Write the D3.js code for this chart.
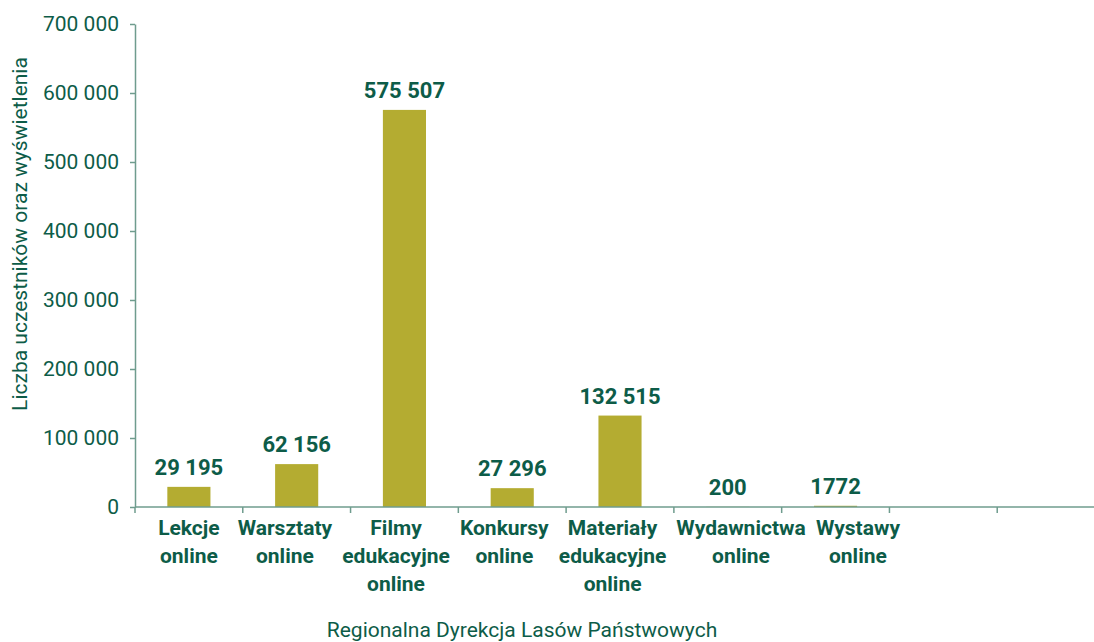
<!DOCTYPE html>
<html>
<head>
<meta charset="utf-8">
<script src="https://cdn.jsdelivr.net/npm/d3@7"></script>
<style>
  body { margin: 0; background: #fff; }
  text { font-family: Roboto, "Noto Sans", sans-serif; }
</style>
</head>
<body>
<div id="chart"></div>
<script>
// values
const categories = ["Lekcje online", "Warsztaty online", "Filmy edukacyjne online", "Konkursy online",
    "Materiały edukacyjne online", "Wydawnictwa online", "Wystawy online"]
const values = [29195, 62156, 575507, 27296, 132515, 200, 1772]
const valueLabels = ["29 195", "62 156", "575 507", "27 296", "132 515", "200", "1772"]
const emptySlots = ["_a", "_b"]
const yTicks = [0, 100000, 200000, 300000, 400000, 500000, 600000, 700000]

const textColour = "#0d5c48"
const axisColour = "#6f9c8e"
const barColour = "#b4ac31"

const fullWidth = 1094, fullHeight = 642
const margin = {top: 24, right: -11, bottom: 135, left: 135},
    width = fullWidth - margin.left - margin.right,
    height = fullHeight - margin.top - margin.bottom

const svg = d3.select("#chart").append("svg")
    .attr("width", fullWidth)
    .attr("height", fullHeight)

const g = svg.append("g")
    .attr("transform", `translate(${margin.left},${margin.top})`)

const scaleX = d3.scaleBand()
    .domain(categories.concat(emptySlots))
    .range([0, width])

const scaleY = d3.scaleLinear()
    .domain([0, 700000])
    .range([height, 0])

// y axis
const yAxis = g.append("g")
    .call(d3.axisLeft(scaleY)
        .tickValues(yTicks)
        .tickSize(5)
        .tickSizeOuter(0)
        .tickPadding(11)
        .tickFormat(d => d3.format(",")(d).replace(/,/g, " ")))
yAxis.select(".domain").attr("stroke", axisColour).attr("stroke-width", 1.5)
yAxis.selectAll(".tick line").attr("stroke", axisColour).attr("stroke-width", 1.5)
yAxis.selectAll(".tick text")
    .attr("fill", textColour)
    .style("font-size", "21px")

// bars
const bw = scaleX.bandwidth()
g.selectAll("rect.bar")
    .data(values)
    .join("rect")
    .attr("class", "bar")
    .attr("x", (d, i) => scaleX(categories[i]) + bw * 0.3)
    .attr("width", bw * 0.4)
    .attr("y", d => scaleY(d))
    .attr("height", d => height - scaleY(d))
    .attr("fill", barColour)

// value labels
g.selectAll("text.value")
    .data(values)
    .join("text")
    .attr("class", "value")
    .attr("x", (d, i) => scaleX(categories[i]) + bw / 2)
    .attr("y", d => scaleY(d) - 12)
    .attr("text-anchor", "middle")
    .attr("fill", textColour)
    .style("font-size", "22px")
    .style("font-weight", "bold")
    .text((d, i) => valueLabels[i])

// x axis line + ticks at band edges
const xAxis = g.append("g").attr("transform", `translate(0,${height})`)
xAxis.append("line")
    .attr("x1", 0).attr("x2", width)
    .attr("stroke", axisColour).attr("stroke-width", 1.5)
xAxis.selectAll("line.tick")
    .data(scaleX.domain())
    .join("line")
    .attr("class", "tick")
    .attr("x1", d => scaleX(d)).attr("x2", d => scaleX(d))
    .attr("y1", 0).attr("y2", 6)
    .attr("stroke", axisColour).attr("stroke-width", 1.5)

// category labels, one word per line
const catLabels = xAxis.selectAll("g.cat")
    .data(categories)
    .join("g")
    .attr("class", "cat")
    .attr("transform", d => `translate(${scaleX(d) + bw / 2},0)`)
catLabels.append("text")
    .attr("text-anchor", "middle")
    .attr("fill", textColour)
    .style("font-size", "21px")
    .style("font-weight", "bold")
    .each(function(d) {
        const t = d3.select(this)
        d.split(" ").forEach((w, i) => {
            t.append("tspan")
                .attr("x", 0)
                .attr("y", 28 + i * 28)
                .text(w)
        })
    })

// push neighbouring labels apart when they collide
const centres = categories.map(d => scaleX(d) + bw / 2)
const widths = []
catLabels.each(function() { widths.push(this.getBBox().width) })
const gap = 10
for (let k = 0; k < 20; k++) {
    for (let i = 0; i < centres.length - 1; i++) {
        const overlap = (centres[i] + widths[i] / 2 + gap) - (centres[i + 1] - widths[i + 1] / 2)
        if (overlap > 0) {
            centres[i] -= overlap / 2
            centres[i + 1] += overlap / 2
        }
    }
}
catLabels.attr("transform", (d, i) => `translate(${centres[i]},0)`)

// axis titles
svg.append("text")
    .attr("x", 522)
    .attr("y", 637)
    .attr("text-anchor", "middle")
    .attr("fill", textColour)
    .style("font-size", "21px")
    .text("Regionalna Dyrekcja Lasów Państwowych")

svg.append("text")
    .attr("transform", "translate(27, 234) rotate(-90)")
    .attr("text-anchor", "middle")
    .attr("fill", textColour)
    .style("font-size", "21px")
    .text("Liczba uczestników oraz wyświetlenia")
</script>
</body>
</html>
